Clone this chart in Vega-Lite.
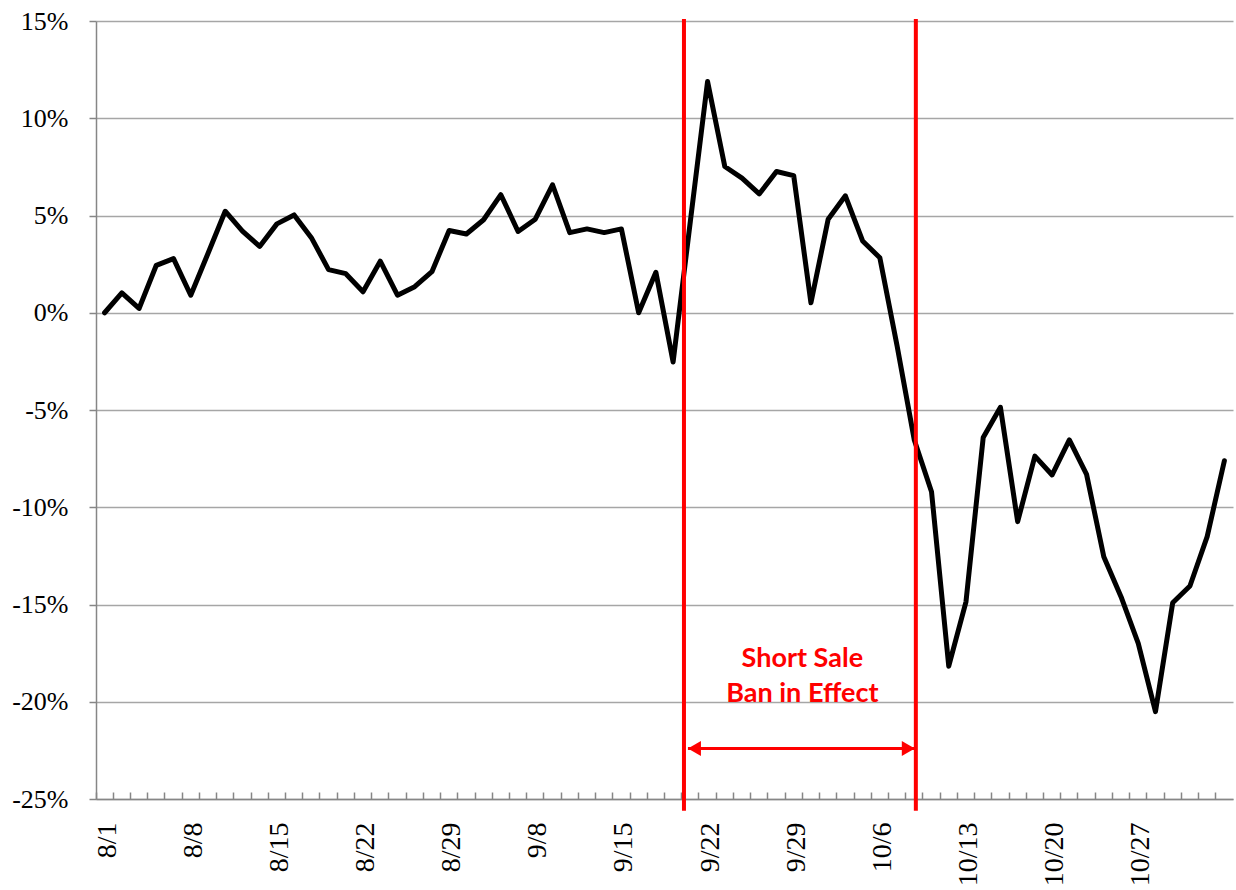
{
  "$schema": "https://vega.github.io/schema/vega-lite/v6.json",
  "width": 1137,
  "height": 778,
  "autosize": "none",
  "padding": {"left": 96, "top": 21, "right": 3, "bottom": 91},
  "background": "white",
  "config": {
    "view": {"stroke": null},
    "axis": {
      "labelFont": "Liberation Serif",
      "labelFontSize": 26,
      "labelColor": "black",
      "domainColor": "#868686",
      "domainWidth": 1.5,
      "tickColor": "#868686",
      "tickWidth": 1.5,
      "titleFontSize": 1
    }
  },
  "datasets": {
    "series": [
      {"d": "8/1", "v": 0}, {"d": "8/4", "v": 1.02}, {"d": "8/5", "v": 0.22}, {"d": "8/6", "v": 2.44}, {"d": "8/7", "v": 2.78},
      {"d": "8/8", "v": 0.9}, {"d": "8/11", "v": 3.05}, {"d": "8/12", "v": 5.22}, {"d": "8/13", "v": 4.2}, {"d": "8/14", "v": 3.41},
      {"d": "8/15", "v": 4.57}, {"d": "8/18", "v": 5.03}, {"d": "8/19", "v": 3.86}, {"d": "8/20", "v": 2.22}, {"d": "8/21", "v": 2.01},
      {"d": "8/22", "v": 1.08}, {"d": "8/25", "v": 2.65}, {"d": "8/26", "v": 0.9}, {"d": "8/27", "v": 1.34}, {"d": "8/28", "v": 2.11},
      {"d": "8/29", "v": 4.23}, {"d": "9/2", "v": 4.05}, {"d": "9/3", "v": 4.78}, {"d": "9/4", "v": 6.07}, {"d": "9/5", "v": 4.18},
      {"d": "9/8", "v": 4.81}, {"d": "9/9", "v": 6.58}, {"d": "9/10", "v": 4.12}, {"d": "9/11", "v": 4.31}, {"d": "9/12", "v": 4.12},
      {"d": "9/15", "v": 4.31}, {"d": "9/16", "v": 0}, {"d": "9/17", "v": 2.08}, {"d": "9/18", "v": -2.53}, {"d": "9/19", "v": 4.7},
      {"d": "9/22", "v": 11.89}, {"d": "9/23", "v": 7.52}, {"d": "9/24", "v": 6.92}, {"d": "9/25", "v": 6.11}, {"d": "9/26", "v": 7.26},
      {"d": "9/29", "v": 7.05}, {"d": "9/30", "v": 0.51}, {"d": "10/1", "v": 4.81}, {"d": "10/2", "v": 6.01}, {"d": "10/3", "v": 3.69},
      {"d": "10/6", "v": 2.83}, {"d": "10/7", "v": -1.7}, {"d": "10/8", "v": -6.54}, {"d": "10/9", "v": -9.2}, {"d": "10/10", "v": -18.17},
      {"d": "10/13", "v": -14.86}, {"d": "10/14", "v": -6.41}, {"d": "10/15", "v": -4.86}, {"d": "10/16", "v": -10.74}, {"d": "10/17", "v": -7.37},
      {"d": "10/20", "v": -8.34}, {"d": "10/21", "v": -6.54}, {"d": "10/22", "v": -8.31}, {"d": "10/23", "v": -12.54}, {"d": "10/24", "v": -14.6},
      {"d": "10/27", "v": -17.0}, {"d": "10/28", "v": -20.51}, {"d": "10/29", "v": -14.91}, {"d": "10/30", "v": -14.05}, {"d": "10/31", "v": -11.51},
      {"d": "11/3", "v": -7.61}
    ],
    "arrow": [{"from": "9/19", "to": "10/8", "v": -22.4}],
    "note": [
      {"d": "9/30", "v": -18.2, "t": "Short Sale"},
      {"d": "9/30", "v": -20.0, "t": "Ban in Effect"}
    ]
  },
  "layer": [
    {
      "data": {"name": "series"},
      "mark": {"type": "line", "color": "black", "strokeWidth": 5, "strokeJoin": "round", "strokeCap": "round"},
      "encoding": {
        "x": {
          "field": "d", "type": "ordinal", "sort": null, "bandPosition": 0.5, "title": null,
          "scale": {
            "type": "band", "paddingInner": 0, "paddingOuter": 0,
            "domain": ["8/1","8/4","8/5","8/6","8/7","8/8","8/11","8/12","8/13","8/14","8/15","8/18","8/19","8/20","8/21","8/22","8/25","8/26","8/27","8/28","8/29","9/2","9/3","9/4","9/5","9/8","9/9","9/10","9/11","9/12","9/15","9/16","9/17","9/18","9/19","9/22","9/23","9/24","9/25","9/26","9/29","9/30","10/1","10/2","10/3","10/6","10/7","10/8","10/9","10/10","10/13","10/14","10/15","10/16","10/17","10/20","10/21","10/22","10/23","10/24","10/27","10/28","10/29","10/30","10/31","11/3"]
          },
          "axis": {
            "bandPosition": 0,
            "labelAngle": 270,
            "labelFontSize": 28,
            "labelExpr": "indexof(['8/1','8/8','8/15','8/22','8/29','9/8','9/15','9/22','9/29','10/6','10/13','10/20','10/27'], datum.value) >= 0 ? datum.value : ''",
            "labelOffset": 3,
            "labelPadding": 30,
            "tickSize": -7,
            "grid": false,
            "labelOverlap": false,
            "labelBound": false
          }
        },
        "y": {
          "field": "v", "type": "quantitative", "title": null,
          "scale": {"domain": [-25, 15], "nice": false, "zero": false},
          "axis": {
            "values": [-25, -20, -15, -10, -5, 0, 5, 10, 15],
            "labelExpr": "datum.value + '%'",
            "tickSize": 7,
            "labelPadding": 21,
            "grid": true,
            "gridColor": "#a6a6a6",
            "gridWidth": 1.3,
            "labelBaseline": "middle"
          }
        }
      }
    },
    {
      "data": {"values": [{"d": "9/19"}]},
      "mark": {"type": "rule", "color": "#ff0000", "strokeWidth": 4},
      "encoding": {
        "x": {"field": "d", "type": "ordinal", "bandPosition": 0.13, "title": null},
        "y": {"datum": 15.1, "type": "quantitative", "title": null},
        "y2": {"datum": -25.6}
      }
    },
    {
      "data": {"values": [{"d": "10/8"}]},
      "mark": {"type": "rule", "color": "#ff0000", "strokeWidth": 4},
      "encoding": {
        "x": {"field": "d", "type": "ordinal", "bandPosition": 0.59, "title": null},
        "y": {"datum": 15.1, "type": "quantitative", "title": null},
        "y2": {"datum": -25.6}
      }
    },
    {
      "data": {"name": "arrow"},
      "mark": {"type": "rule", "color": "#ff0000", "strokeWidth": 3},
      "encoding": {
        "x": {"field": "from", "type": "ordinal", "bandPosition": 0.36, "title": null},
        "x2": {"field": "to", "bandPosition": 0.53},
        "y": {"field": "v", "type": "quantitative", "title": null}
      }
    },
    {
      "data": {"name": "arrow"},
      "mark": {"type": "point", "shape": "triangle-left", "filled": true, "color": "#ff0000", "opacity": 1, "size": 225, "xOffset": 6.5},
      "encoding": {
        "x": {"field": "from", "type": "ordinal", "bandPosition": 0.36, "title": null},
        "y": {"field": "v", "type": "quantitative", "title": null}
      }
    },
    {
      "data": {"name": "arrow"},
      "mark": {"type": "point", "shape": "triangle-right", "filled": true, "color": "#ff0000", "opacity": 1, "size": 225, "xOffset": -6.5},
      "encoding": {
        "x": {"field": "to", "type": "ordinal", "bandPosition": 0.53, "title": null},
        "y": {"field": "v", "type": "quantitative", "title": null}
      }
    },
    {
      "data": {"name": "note"},
      "mark": {"type": "text", "align": "center", "baseline": "alphabetic", "font": "Lato", "fontWeight": "bold", "fontSize": 27, "color": "#ff0000"},
      "encoding": {
        "x": {"field": "d", "type": "ordinal", "bandPosition": 0, "title": null},
        "y": {"field": "v", "type": "quantitative", "title": null},
        "text": {"field": "t"}
      }
    }
  ]
}
